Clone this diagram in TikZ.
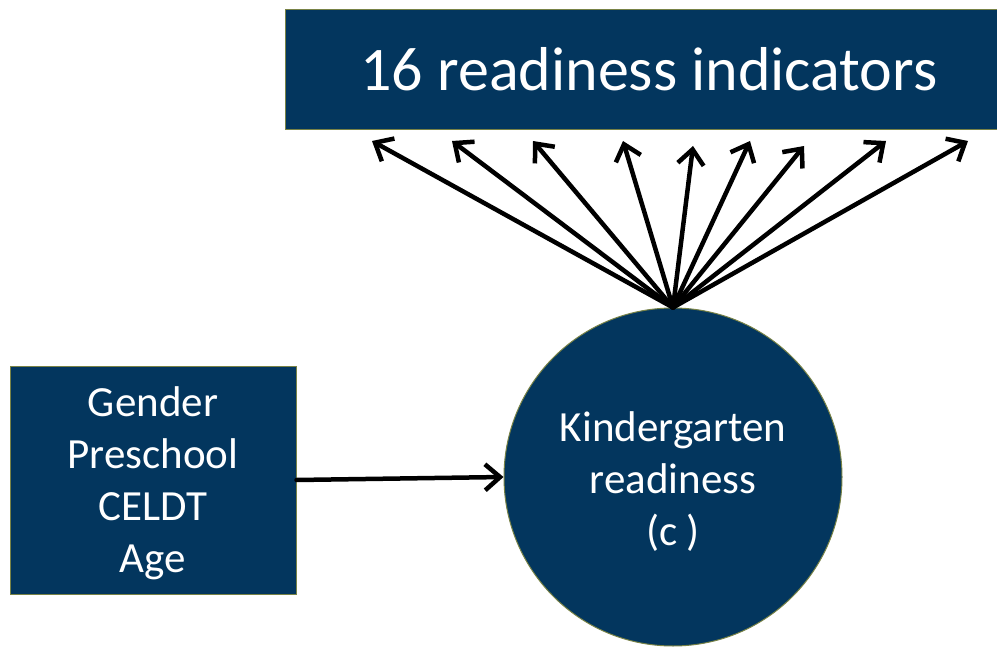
\documentclass[tikz,border=0pt]{standalone}
\usepackage{fontspec}
\setmainfont{Carlito}
\usetikzlibrary{arrows.meta}
\definecolor{navy}{RGB}{3,54,94}
\definecolor{olive}{RGB}{120,130,70}
\tikzset{
  panel/.style={draw=olive, line width=1pt, fill=navy, text=white, inner sep=0pt},
  caption/.style={text=white, align=center, inner sep=0pt, font=\fontsize{43}{52}\selectfont},
  link/.style={line width=4.5pt, line cap=round, -{Straight Barb[length=15pt,width=26pt,line width=4.5pt]}},
}
\begin{document}
\begin{tikzpicture}[x=1pt,y=-1pt]
  \clip (0,0) rectangle (997,650);
  \fill[white] (0,0) rectangle (997,650);

  % indicator block across the top
  \node[panel, anchor=north west, minimum width=717pt, minimum height=120pt,
        font=\fontsize{62}{70}\selectfont] (ind) at (285,9) {\hspace*{10pt}16 readiness indicators};

  % covariates
  \node[panel, minimum width=286pt, minimum height=228pt] (cov) at (153,480) {};
  \node[caption] (covtext) at (153,483) {Gender\\Preschool\\CELDT\\Age};

  % latent factor
  \node[panel, circle, minimum size=338pt] (lat) at (673,477) {};
  \node[caption] (lattext) at (673,482) {Kindergarten\\readiness\\(c )};

  % arrow tips below the indicator block
  \coordinate (t1) at (372,141);
  \coordinate (t2) at (452,141);
  \coordinate (t3) at (533,141);
  \coordinate (t4) at (623,141);
  \coordinate (t5) at (693,146);
  \coordinate (t6) at (750,141);
  \coordinate (t7) at (804,146);
  \coordinate (t8) at (886,141);
  \coordinate (t9) at (968,141);

  \foreach \i in {1,...,9}
    \draw[link] (lat.north) -- (t\i);

  \draw[link] (cov.east) -- (lat.west);
\end{tikzpicture}
\end{document}
